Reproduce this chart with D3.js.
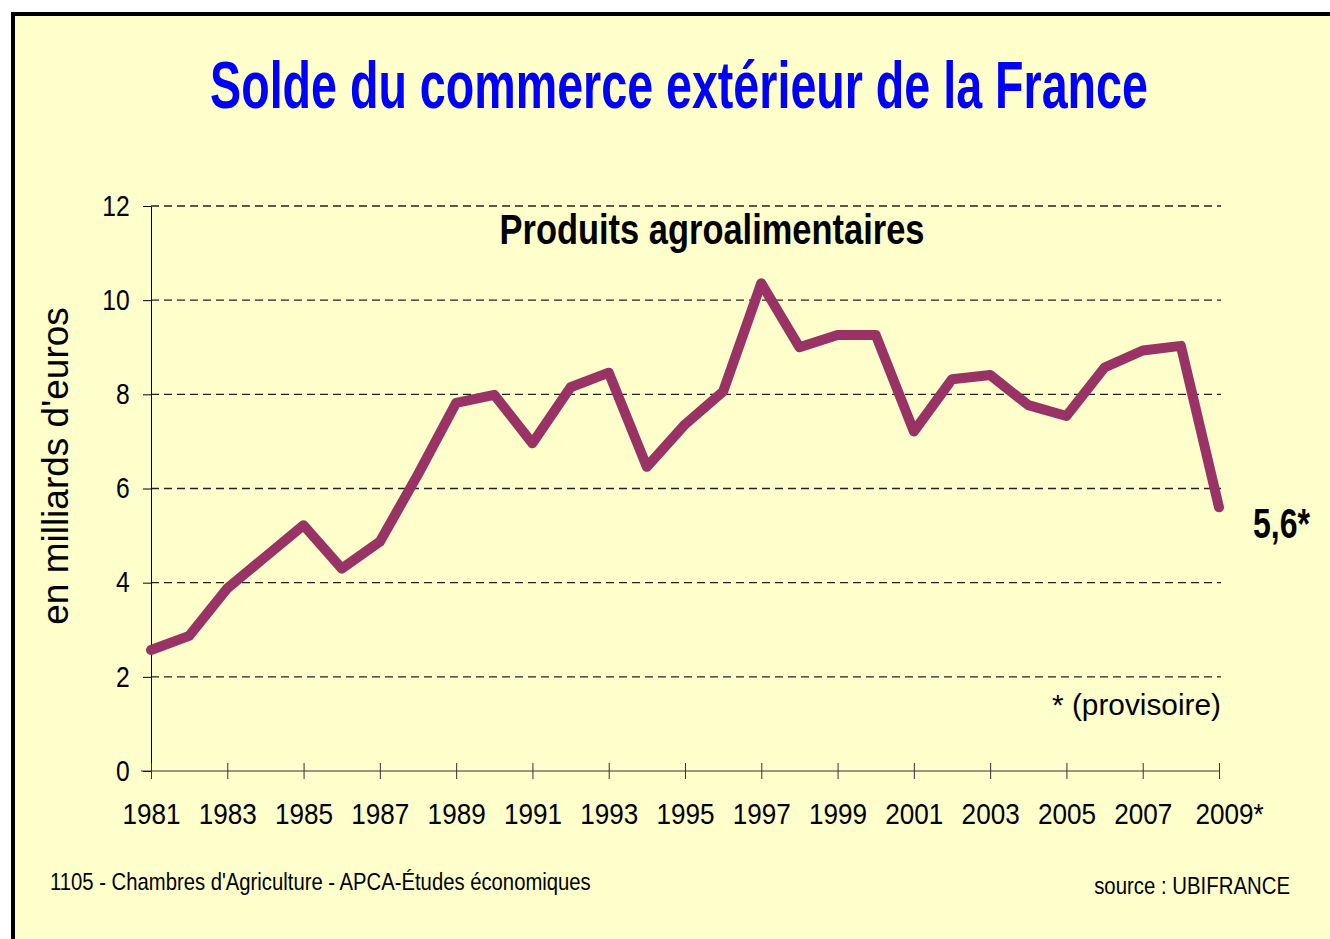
<!DOCTYPE html>
<html>
<head>
<meta charset="utf-8">
<script src="https://cdn.jsdelivr.net/npm/d3@7/dist/d3.min.js"></script>
<style>
  body { margin: 0; background: #fff; }
  svg text { fill: #000; }
</style>
</head>
<body>
<div id="chart"></div>
<script>
// data (milliards d'euros)
const years = [1981, 1982, 1983, 1984, 1985, 1986, 1987, 1988, 1989, 1990,
               1991, 1992, 1993, 1994, 1995, 1996, 1997, 1998, 1999, 2000,
               2001, 2002, 2003, 2004, 2005, 2006, 2007, 2008, 2009];
const solde = [2.57, 2.87, 3.88, 4.55, 5.22, 4.3, 4.87, 6.3, 7.82, 7.99,
               6.96, 8.15, 8.46, 6.46, 7.36, 8.06, 10.36, 9.0, 9.26, 9.26,
               7.21, 8.32, 8.41, 7.77, 7.54, 8.57, 8.93, 9.03, 5.6];
const yTicks = [0, 2, 4, 6, 8, 10, 12];
const xTicks = [1981, 1983, 1985, 1987, 1989, 1991, 1993, 1995, 1997, 1999, 2001, 2003, 2005, 2007, 2009];
const xTickLabels = ["1981", "1983", "1985", "1987", "1989", "1991", "1993", "1995", "1997", "1999", "2001", "2003", "2005", "2007", "2009*"];
const lastLabel = "5,6*";

var width = 1330;
var height = 939;
var font = "'Liberation Sans', Arial, sans-serif";

var svg = d3.select("#chart").append("svg")
    .attr("width", width)
    .attr("height", height)
    .style("font-family", font);

// frame
svg.append("rect")
    .attr("x", 13).attr("y", 14)
    .attr("width", width).attr("height", height)
    .attr("fill", "#ffffcc")
    .attr("stroke", "#000")
    .attr("stroke-width", 4);

var x = d3.scaleLinear().domain([1981, 2009]).range([151, 1219]);
var y = d3.scaleLinear().domain([0, 12]).range([771, 206]);

// dashed grid
svg.append("g")
    .selectAll("line")
    .data(yTicks.filter(d => d > 0))
    .enter().append("line")
    .attr("x1", x(1981)).attr("x2", x(2009) + 2)
    .attr("y1", d => y(d)).attr("y2", d => y(d))
    .attr("stroke", "#222")
    .attr("stroke-width", 1.3)
    .attr("stroke-dasharray", "8,5");

// y axis
var yAxis = svg.append("g")
    .attr("transform", `translate(${x(1981)},0)`)
    .call(d3.axisLeft(y).tickValues(yTicks).tickSize(8).tickSizeOuter(0).tickPadding(17));
yAxis.select(".domain").attr("stroke", "#000");
yAxis.selectAll(".tick line").attr("stroke", "#000");
yAxis.selectAll(".tick text")
    .attr("transform", "scale(0.85,1)")
    .style("font-family", font)
    .style("font-size", "29px");

// x axis, ticks cross the line
var xAxis = svg.append("g")
    .attr("transform", `translate(0,${y(0)})`)
    .call(d3.axisBottom(x).tickValues(xTicks).tickFormat((d, i) => xTickLabels[i])
        .tickSize(8).tickSizeOuter(0).tickPadding(24));
xAxis.select(".domain").attr("stroke", "#333").attr("d", `M${x(1981) - 10},0H${x(2009)}`);
xAxis.selectAll(".tick line").attr("y1", -8).attr("y2", 8).attr("stroke", "#333");
xAxis.selectAll(".tick text")
    .attr("transform", (d, i) => i == xTicks.length - 1 ? "translate(10,0) scale(0.87,1)" : "scale(0.87,1)")
    .style("font-family", font)
    .style("font-size", "30px");

// the series
var line = d3.line()
    .x(function(d, i) { return x(years[i]); })
    .y(function(d) { return y(d); });

svg.append("path")
    .datum(solde)
    .attr("d", line)
    .attr("fill", "none")
    .attr("stroke", "#993366")
    .attr("stroke-width", 10)
    .attr("stroke-linejoin", "round")
    .attr("stroke-linecap", "round");

// texts (narrow look: squeeze horizontally to the widths seen in the picture)
function label(px, py, str, size, opts) {
    var g = svg.append("g");
    var t = g.append("text")
        .attr("text-anchor", opts.anchor || "start")
        .style("font-size", size + "px")
        .style("font-weight", opts.bold ? "bold" : "normal")
        .style("fill", opts.color || "#000")
        .text(str);
    var w = t.node().getComputedTextLength();
    var sx = opts.len ? opts.len / w : 1;
    g.attr("transform", `translate(${px},${py}) scale(${sx},1)`);
    return t;
}

label(679, 108, "Solde du commerce extérieur de la France", 66, {anchor: "middle", bold: true, color: "#0000ff", len: 938});
label(712, 244, "Produits agroalimentaires", 42, {anchor: "middle", bold: true, len: 425});
label(1253, 538, lastLabel, 42, {bold: true, len: 57});
label(1221, 715, "* (provisoire)", 29, {anchor: "end", len: 169});
label(50, 890, "1105 - Chambres d'Agriculture - APCA-Études économiques", 24, {len: 541});
label(1290, 894, "source : UBIFRANCE", 24, {anchor: "end", len: 196});

svg.append("text")
    .attr("transform", `translate(68,466) rotate(-90)`)
    .attr("text-anchor", "middle")
    .style("font-size", "37px")
    .text("en milliards d'euros");
</script>
</body>
</html>
